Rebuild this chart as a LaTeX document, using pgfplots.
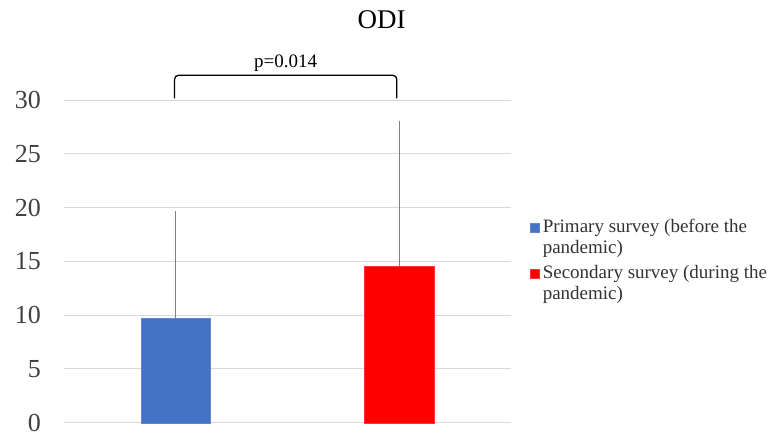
\documentclass[border=0pt]{standalone}
\usepackage{fontspec}
\setmainfont{Liberation Serif}
\usepackage{pgfplots}
\pgfplotsset{compat=1.18}
\definecolor{barblue}{HTML}{4472C4}
\definecolor{barred}{HTML}{FF0000}
\definecolor{gridgray}{HTML}{D9D9D9}
\definecolor{txt}{HTML}{404040}
\begin{document}
\begin{tikzpicture}
\useasboundingbox (0,0) rectangle (776bp,434bp);
\begin{axis}[
  at={(64bp,11.3bp)}, anchor=south west,
  scale only axis, width=446.7bp, height=322.7bp,
  xmin=-0.5, xmax=1.5, ymin=0, ymax=30,
  ytick={0,5,10,15,20,25,30}, xtick=\empty,
  ymajorgrids, grid style={gridgray, line width=0.9bp},
  axis line style={draw=none}, major tick length=0pt,
  tick label style={font=\fontsize{26bp}{26bp}\selectfont, text=txt},
  /pgf/number format/assume math mode=true,
  yticklabel style={inner xsep=0pt, xshift=-23bp},
  ybar=0pt, bar width=69.5bp, bar shift=0pt,
  clip=false,
  legend image code/.code={\fill[#1] (0bp,5bp) rectangle (9bp,14bp);},
  legend cell align=left,
  legend style={at={(1.037,0.643)}, anchor=north west, draw=none, fill=none,
    font=\fontsize{19bp}{21bp}\selectfont, text=black!80,
    nodes={align=left}, row sep=6bp,
    /tikz/every odd column/.append style={column sep=1bp}},
]
\addplot[fill=barblue, draw=barblue!85!white,
  error bars/.cd, y dir=plus, y explicit,
  error bar style={color=gray, line width=0.9bp},
  error mark options={color=gray, mark size=1.5bp, line width=0.9bp}]
  coordinates {(0,9.76) +- (0,9.82)};
\addlegendentry{Primary survey (before the\\pandemic)}
\addplot[fill=barred, draw=barred!80!white,
  error bars/.cd, y dir=plus, y explicit,
  error bar style={color=gray, line width=0.9bp},
  error mark options={color=gray, mark size=1.5bp, line width=0.9bp}]
  coordinates {(1,14.59) +- (0,13.29)};
\addlegendentry{Secondary survey (during the\\pandemic)}
\draw[line width=1.3bp, rounded corners=4bp]
  (axis cs:-0.005,30.15) -- (axis cs:-0.005,32.3) -- (axis cs:0.99,32.3) -- (axis cs:0.99,30.15);
\node[anchor=south, inner sep=0pt, font=\fontsize{19bp}{19bp}\selectfont]
  at (axis cs:0.4925,32.6) {p=0.014};
\end{axis}
\node[font=\fontsize{27bp}{27bp}\selectfont] at (381.7bp,414bp) {ODI};
\end{tikzpicture}
\end{document}
